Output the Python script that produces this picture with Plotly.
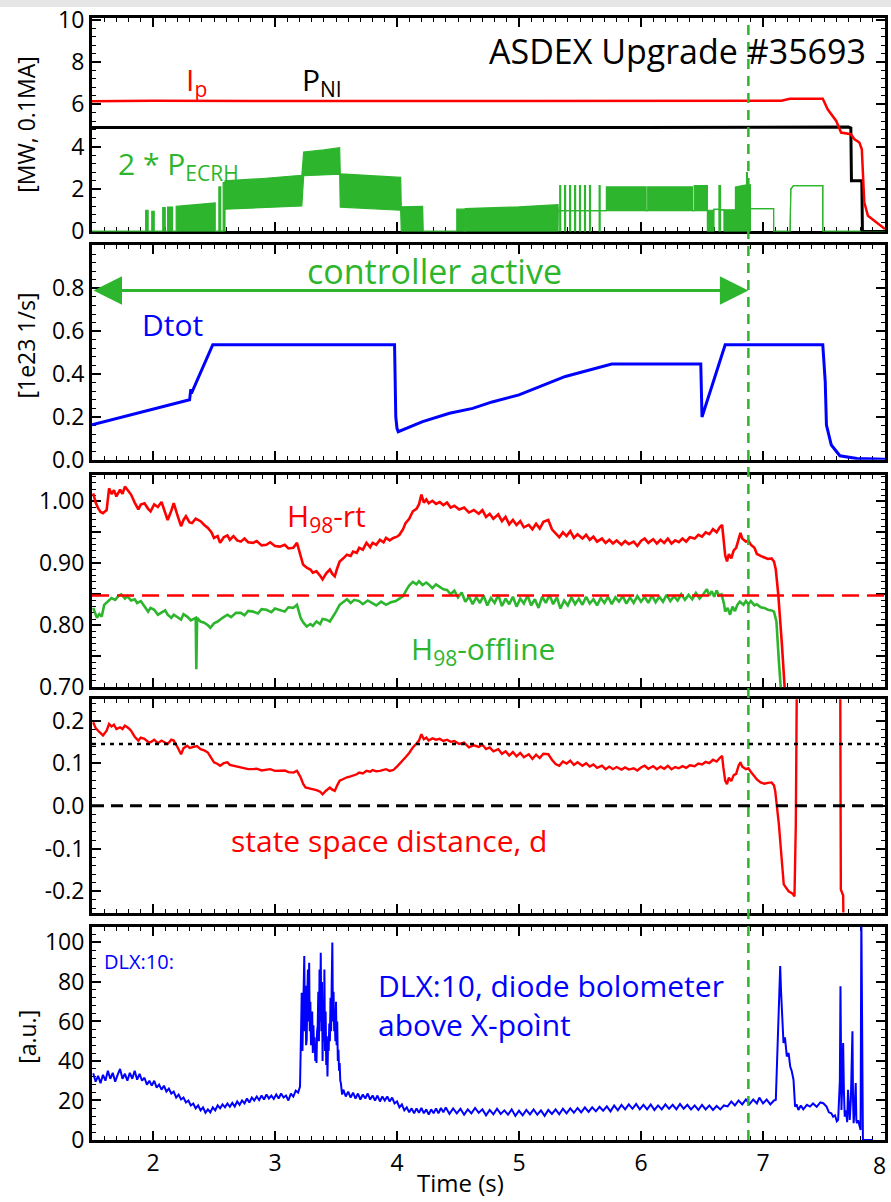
import plotly.graph_objects as go

# ---------------- data (time in s) ----------------
ip_pts = [(1.50, 6.15), (2.0, 6.17), (3.0, 6.16), (4.0, 6.17), (5.0, 6.17), (6.0, 6.18), (7.0, 6.17),
          (7.15, 6.17), (7.22, 6.26), (7.49, 6.27), (7.53, 5.77), (7.60, 5.22), (7.64, 4.67), (7.72, 4.59),
          (7.75, 4.35), (7.79, 4.20), (7.81, 3.88), (7.82, 2.63), (7.83, 1.37), (7.86, 0.74), (7.93, 0.42),
          (8.0, 0.11)]

pni_pts = [(1.50, 4.91), (3.0, 4.90), (4.5, 4.91), (6.0, 4.91), (7.70, 4.93), (7.72, 4.88), (7.725, 2.39),
           (7.81, 2.39), (7.815, 0.0), (8.0, 0.0)]

# 2*P_ECRH: modulated power, given as lower / upper envelope (t, low, high)
ecrh_pts = [
    (1.50, 0, 0), (1.94, 0, 0), (1.94, 0, 1.0), (1.96, 0, 1.0), (1.96, 0, 0), (1.99, 0, 0), (1.99, 0, 0.95),
    (2.01, 0, 0.95), (2.01, 0, 0), (2.08, 0, 0), (2.08, 0, 1.12), (2.10, 0, 1.12), (2.10, 0, 0), (2.12, 0, 0),
    (2.12, 0, 1.15), (2.16, 0, 1.15), (2.16, 0, 0), (2.19, 0, 0), (2.19, 0, 1.18), (2.35, 0, 1.25),
    (2.51, 0, 1.35), (2.51, 0, 0), (2.54, 0, 0), (2.54, 0, 2.1), (2.555, 0, 2.1), (2.555, 0, 0),
    (2.575, 0, 0), (2.575, 0, 2.3), (2.59, 0, 2.3), (2.59, 1.05, 2.39), (2.90, 1.12, 2.50),
    (3.22, 1.20, 2.65), (3.235, 2.63, 3.75), (3.40, 2.66, 3.85), (3.53, 2.70, 3.95), (3.535, 1.15, 2.72),
    (3.80, 1.08, 2.64), (4.03, 1.00, 2.55), (4.035, 0, 1.16), (4.21, 0, 1.18), (4.215, 0, 0), (4.49, 0, 0),
    (4.49, 0, 1.05), (4.55, 0, 1.05), (4.55, 0, 0), (4.56, 0, 0), (4.56, 0, 1.08), (5.00, 0, 1.16),
    (5.32, 0, 1.26), (5.322, 0.98, 0.98),
    (5.334, 0.98, 0.98), (5.334, 0, 2.16), (5.342, 0, 2.16), (5.342, 0.98, 0.98),
    (5.374, 0.98, 0.98), (5.374, 0, 2.16), (5.382, 0, 2.16), (5.382, 0.98, 0.98),
    (5.415, 0.98, 0.98), (5.415, 0, 2.16), (5.423, 0, 2.16), (5.423, 0.98, 0.98),
    (5.456, 0.98, 0.98), (5.456, 0, 2.16), (5.464, 0, 2.16), (5.464, 0.98, 0.98),
    (5.496, 0.98, 0.98), (5.496, 0, 2.16), (5.504, 0, 2.16), (5.504, 0.98, 0.98),
    (5.537, 0.98, 0.98), (5.537, 0, 2.16), (5.545, 0, 2.16), (5.545, 0.98, 0.98),
    (5.578, 0.98, 0.98), (5.578, 0, 2.16), (5.586, 0, 2.16), (5.586, 0.98, 0.98),
    (5.657, 0.98, 0.98), (5.657, 0, 2.16), (5.665, 0, 2.16), (5.665, 0.98, 0.98),
    (5.716, 0.98, 0.98), (5.716, 0.98, 2.10), (6.042, 0.98, 2.10), (6.042, 0.98, 0.98),
    (6.055, 0.98, 0.98), (6.055, 0.98, 2.10), (6.422, 0.98, 2.10), (6.422, 0.98, 0.98),
    (6.436, 0.98, 0.98), (6.436, 0.98, 2.16), (6.544, 0.98, 2.16), (6.544, 0, 1.0), (6.598, 0, 1.0),
    (6.598, 1.04, 1.04), (6.639, 1.04, 1.04), (6.639, 0, 2.16), (6.652, 0, 2.16), (6.652, 1.02, 1.02),
    (6.68, 1.02, 1.02), (6.68, 0, 1.02), (6.774, 0, 1.02), (6.774, 0, 2.10), (6.865, 0, 2.2),
    (6.865, 0, 2.78), (6.872, 0, 2.78), (6.872, 0, 2.2), (6.897, 0, 2.2), (6.897, 1.08, 1.08),
    (7.087, 1.08, 1.08), (7.087, 0, 0), (7.222, 0, 0), (7.228, 2.0, 2.0), (7.25, 2.16, 2.16),
    (7.49, 2.16, 2.16), (7.49, 0, 0), (8.0, 0, 0)]

dtot_pts = [(1.50, 0.163), (2.30, 0.28), (2.31, 0.33), (2.315, 0.31), (2.49, 0.537), (3.98, 0.537),
            (3.99, 0.20), (4.0, 0.147), (4.01, 0.131), (4.21, 0.178), (4.43, 0.217), (4.62, 0.24),
            (4.78, 0.27), (5.0, 0.303), (5.38, 0.389), (5.76, 0.447), (6.49, 0.447), (6.50, 0.20),
            (6.69, 0.537), (7.49, 0.537), (7.51, 0.365), (7.52, 0.162), (7.56, 0.069), (7.63, 0.019),
            (7.77, 0.006), (8.0, 0.003)]

h98_rt_pts = [
    (1.51, 1.013), (1.53, 0.998), (1.55, 0.989), (1.57, 0.983), (1.59, 0.981), (1.62, 0.986), (1.64, 1.021),
    (1.66, 1.012), (1.68, 1.018), (1.70, 1.008), (1.73, 1.019), (1.75, 1.012), (1.77, 1.024), (1.80, 1.015),
    (1.82, 1.011), (1.85, 0.998), (1.88, 0.987), (1.90, 0.995), (1.93, 0.997), (1.96, 0.988), (1.98, 0.984),
    (2.01, 0.995), (2.04, 0.991), (2.07, 0.999), (2.10, 0.982), (2.12, 0.970), (2.15, 0.985), (2.17, 0.997),
    (2.20, 0.978), (2.23, 0.960), (2.25, 0.970), (2.27, 0.976), (2.30, 0.966), (2.32, 0.965), (2.35, 0.972),
    (2.39, 0.968), (2.42, 0.962), (2.45, 0.957), (2.48, 0.950), (2.50, 0.941), (2.53, 0.944), (2.55, 0.933),
    (2.58, 0.942), (2.61, 0.945), (2.63, 0.938), (2.66, 0.944), (2.69, 0.937), (2.72, 0.935), (2.75, 0.940),
    (2.78, 0.934), (2.82, 0.933), (2.85, 0.936), (2.89, 0.929), (2.93, 0.930), (2.96, 0.934), (3.00, 0.928),
    (3.04, 0.927), (3.08, 0.930), (3.11, 0.924), (3.15, 0.925), (3.18, 0.933), (3.20, 0.919), (3.23, 0.898),
    (3.26, 0.893), (3.29, 0.890), (3.31, 0.885), (3.34, 0.887), (3.37, 0.880), (3.39, 0.874), (3.42, 0.884),
    (3.45, 0.890), (3.47, 0.883), (3.49, 0.879), (3.51, 0.892), (3.53, 0.903), (3.56, 0.908), (3.59, 0.914),
    (3.62, 0.912), (3.64, 0.919), (3.67, 0.917), (3.69, 0.925), (3.72, 0.922), (3.75, 0.933), (3.78, 0.926),
    (3.80, 0.933), (3.83, 0.930), (3.86, 0.938), (3.89, 0.934), (3.91, 0.941), (3.94, 0.937), (3.97, 0.941),
    (4.00, 0.943), (4.02, 0.946), (4.05, 0.955), (4.07, 0.965), (4.10, 0.972), (4.13, 0.984), (4.16, 0.988),
    (4.18, 0.995), (4.20, 1.011), (4.22, 0.998), (4.24, 1.003), (4.26, 0.997), (4.29, 1.001), (4.32, 0.996),
    (4.35, 0.999), (4.38, 0.994), (4.41, 0.998), (4.44, 0.990), (4.47, 0.993), (4.51, 0.987), (4.55, 0.990),
    (4.59, 0.982), (4.63, 0.986), (4.67, 0.980), (4.70, 0.986), (4.73, 0.975), (4.76, 0.980), (4.79, 0.972),
    (4.83, 0.979), (4.86, 0.968), (4.89, 0.975), (4.92, 0.963), (4.95, 0.970), (4.98, 0.962), (5.01, 0.968),
    (5.04, 0.958), (5.08, 0.962), (5.11, 0.955), (5.14, 0.964), (5.17, 0.956), (5.20, 0.967), (5.24, 0.970),
    (5.27, 0.955), (5.30, 0.948), (5.33, 0.942), (5.36, 0.950), (5.39, 0.944), (5.42, 0.952), (5.45, 0.941),
    (5.48, 0.947), (5.52, 0.940), (5.55, 0.946), (5.58, 0.938), (5.61, 0.943), (5.64, 0.935), (5.68, 0.940),
    (5.71, 0.933), (5.74, 0.938), (5.77, 0.932), (5.80, 0.937), (5.84, 0.930), (5.87, 0.936), (5.90, 0.931),
    (5.94, 0.935), (5.97, 0.928), (6.00, 0.936), (6.03, 0.940), (6.06, 0.933), (6.10, 0.939), (6.13, 0.932),
    (6.16, 0.938), (6.19, 0.933), (6.22, 0.940), (6.25, 0.932), (6.28, 0.937), (6.31, 0.934), (6.34, 0.940),
    (6.37, 0.935), (6.40, 0.942), (6.44, 0.940), (6.47, 0.946), (6.50, 0.943), (6.53, 0.950), (6.56, 0.947),
    (6.59, 0.955), (6.62, 0.950), (6.645, 0.958), (6.665, 0.962), (6.675, 0.940), (6.69, 0.913), (6.705, 0.903),
    (6.72, 0.915), (6.74, 0.908), (6.76, 0.921), (6.78, 0.925), (6.80, 0.940), (6.815, 0.949), (6.83, 0.940),
    (6.86, 0.935), (6.88, 0.937), (6.90, 0.930), (6.93, 0.925), (6.95, 0.915), (6.98, 0.912), (7.01, 0.909),
    (7.04, 0.907), (7.07, 0.908), (7.09, 0.903), (7.105, 0.890), (7.125, 0.850), (7.155, 0.769),
    (7.175, 0.699), (7.19, 0.66)]

h98_off_pts = [
    (1.51, 0.828), (1.53, 0.815), (1.54, 0.812), (1.56, 0.818), (1.58, 0.814), (1.60, 0.833), (1.63, 0.838),
    (1.66, 0.844), (1.69, 0.841), (1.72, 0.848), (1.74, 0.850), (1.77, 0.843), (1.79, 0.847), (1.82, 0.840),
    (1.85, 0.842), (1.87, 0.836), (1.90, 0.839), (1.93, 0.830), (1.96, 0.822), (1.98, 0.828), (2.01, 0.825),
    (2.04, 0.817), (2.07, 0.820), (2.10, 0.824), (2.12, 0.817), (2.15, 0.812), (2.17, 0.817), (2.20, 0.813),
    (2.23, 0.809), (2.25, 0.818), (2.28, 0.814), (2.31, 0.808), (2.35, 0.812), (2.355, 0.729), (2.362, 0.812),
    (2.39, 0.806), (2.42, 0.804), (2.45, 0.800), (2.47, 0.796), (2.50, 0.803), (2.53, 0.806), (2.57, 0.812),
    (2.61, 0.817), (2.64, 0.813), (2.68, 0.820), (2.72, 0.820), (2.75, 0.816), (2.78, 0.823), (2.82, 0.822),
    (2.86, 0.819), (2.89, 0.826), (2.93, 0.825), (2.97, 0.821), (3.00, 0.827), (3.04, 0.825), (3.08, 0.822),
    (3.11, 0.829), (3.15, 0.828), (3.18, 0.833), (3.21, 0.812), (3.23, 0.805), (3.26, 0.798), (3.29, 0.802),
    (3.31, 0.799), (3.34, 0.806), (3.37, 0.802), (3.39, 0.810), (3.42, 0.809), (3.45, 0.806), (3.47, 0.812),
    (3.50, 0.822), (3.53, 0.833), (3.56, 0.838), (3.59, 0.842), (3.62, 0.836), (3.65, 0.841), (3.69, 0.839),
    (3.72, 0.834), (3.76, 0.840), (3.80, 0.836), (3.83, 0.832), (3.87, 0.838), (3.91, 0.833), (3.95, 0.837),
    (3.99, 0.839), (4.02, 0.843), (4.05, 0.847), (4.08, 0.858), (4.10, 0.864), (4.13, 0.870), (4.16, 0.866),
    (4.18, 0.871), (4.21, 0.865), (4.24, 0.869), (4.26, 0.866), (4.29, 0.860), (4.32, 0.866), (4.35, 0.862),
    (4.38, 0.858), (4.41, 0.857), (4.44, 0.850), (4.47, 0.856), (4.50, 0.845), (4.53, 0.853), (4.56, 0.838),
    (4.59, 0.846), (4.62, 0.834), (4.65, 0.845), (4.68, 0.836), (4.71, 0.848), (4.74, 0.832), (4.77, 0.844),
    (4.80, 0.836), (4.83, 0.849), (4.86, 0.831), (4.89, 0.843), (4.92, 0.834), (4.95, 0.846), (4.98, 0.830),
    (5.01, 0.843), (5.04, 0.835), (5.07, 0.848), (5.10, 0.832), (5.13, 0.842), (5.16, 0.828), (5.19, 0.846),
    (5.22, 0.836), (5.25, 0.849), (5.28, 0.834), (5.31, 0.845), (5.34, 0.827), (5.37, 0.840), (5.40, 0.832),
    (5.43, 0.845), (5.46, 0.834), (5.49, 0.843), (5.52, 0.833), (5.55, 0.846), (5.58, 0.835), (5.61, 0.842),
    (5.64, 0.832), (5.67, 0.844), (5.70, 0.836), (5.73, 0.846), (5.76, 0.834), (5.79, 0.845), (5.82, 0.838),
    (5.85, 0.847), (5.88, 0.835), (5.91, 0.845), (5.94, 0.836), (5.97, 0.847), (6.00, 0.838), (6.03, 0.846),
    (6.06, 0.836), (6.09, 0.848), (6.12, 0.837), (6.15, 0.846), (6.18, 0.838), (6.21, 0.849), (6.24, 0.839),
    (6.27, 0.847), (6.30, 0.840), (6.33, 0.850), (6.36, 0.841), (6.39, 0.849), (6.42, 0.842), (6.45, 0.852),
    (6.48, 0.843), (6.51, 0.850), (6.54, 0.858), (6.56, 0.848), (6.58, 0.855), (6.60, 0.846), (6.62, 0.856),
    (6.64, 0.848), (6.66, 0.850), (6.68, 0.835), (6.69, 0.822), (6.71, 0.828), (6.73, 0.817), (6.75, 0.830),
    (6.77, 0.823), (6.79, 0.833), (6.81, 0.838), (6.84, 0.833), (6.86, 0.839), (6.88, 0.834), (6.90, 0.839),
    (6.93, 0.832), (6.95, 0.834), (6.98, 0.829), (7.01, 0.828), (7.04, 0.825), (7.07, 0.824), (7.09, 0.822),
    (7.11, 0.806), (7.13, 0.742), (7.146, 0.699), (7.16, 0.66)]

dist_pts = [
    (1.51, 0.196), (1.53, 0.182), (1.55, 0.176), (1.57, 0.170), (1.59, 0.165), (1.62, 0.176), (1.64, 0.192),
    (1.66, 0.186), (1.68, 0.190), (1.70, 0.180), (1.73, 0.184), (1.75, 0.180), (1.77, 0.188), (1.80, 0.182),
    (1.82, 0.176), (1.85, 0.162), (1.88, 0.153), (1.90, 0.160), (1.93, 0.157), (1.96, 0.150), (1.98, 0.149),
    (2.01, 0.155), (2.04, 0.147), (2.07, 0.153), (2.10, 0.148), (2.12, 0.145), (2.15, 0.155), (2.17, 0.153),
    (2.20, 0.138), (2.23, 0.121), (2.25, 0.135), (2.28, 0.141), (2.30, 0.136), (2.32, 0.137), (2.36, 0.140),
    (2.39, 0.133), (2.42, 0.130), (2.45, 0.125), (2.48, 0.112), (2.50, 0.102), (2.53, 0.098), (2.55, 0.094),
    (2.58, 0.100), (2.61, 0.102), (2.63, 0.096), (2.66, 0.094), (2.69, 0.091), (2.72, 0.090), (2.75, 0.088),
    (2.78, 0.086), (2.82, 0.086), (2.85, 0.087), (2.89, 0.083), (2.93, 0.084), (2.96, 0.086), (3.00, 0.082),
    (3.04, 0.082), (3.08, 0.083), (3.11, 0.079), (3.15, 0.078), (3.18, 0.082), (3.21, 0.067), (3.23, 0.052),
    (3.25, 0.043), (3.28, 0.041), (3.31, 0.039), (3.34, 0.037), (3.37, 0.033), (3.39, 0.027), (3.42, 0.036),
    (3.45, 0.043), (3.47, 0.038), (3.49, 0.035), (3.51, 0.048), (3.53, 0.059), (3.56, 0.063), (3.59, 0.067),
    (3.62, 0.069), (3.64, 0.071), (3.67, 0.074), (3.69, 0.078), (3.72, 0.076), (3.75, 0.082), (3.78, 0.080),
    (3.80, 0.084), (3.83, 0.081), (3.86, 0.082), (3.89, 0.085), (3.91, 0.086), (3.94, 0.082), (3.97, 0.084),
    (4.00, 0.092), (4.02, 0.098), (4.05, 0.106), (4.07, 0.114), (4.10, 0.124), (4.13, 0.137), (4.16, 0.146),
    (4.18, 0.153), (4.20, 0.168), (4.22, 0.156), (4.24, 0.160), (4.26, 0.153), (4.29, 0.158), (4.32, 0.155),
    (4.35, 0.157), (4.38, 0.152), (4.41, 0.155), (4.44, 0.150), (4.47, 0.152), (4.51, 0.145), (4.55, 0.148),
    (4.59, 0.137), (4.63, 0.142), (4.67, 0.138), (4.70, 0.143), (4.73, 0.133), (4.76, 0.137), (4.79, 0.128),
    (4.83, 0.133), (4.86, 0.122), (4.89, 0.128), (4.92, 0.118), (4.95, 0.126), (4.98, 0.116), (5.01, 0.124),
    (5.04, 0.114), (5.08, 0.121), (5.11, 0.110), (5.14, 0.120), (5.17, 0.112), (5.20, 0.122), (5.24, 0.121),
    (5.27, 0.108), (5.30, 0.098), (5.33, 0.094), (5.36, 0.104), (5.39, 0.099), (5.42, 0.106), (5.45, 0.096),
    (5.48, 0.102), (5.52, 0.094), (5.55, 0.100), (5.58, 0.092), (5.61, 0.097), (5.64, 0.089), (5.68, 0.094),
    (5.71, 0.086), (5.74, 0.092), (5.77, 0.086), (5.80, 0.091), (5.84, 0.085), (5.87, 0.090), (5.90, 0.085),
    (5.94, 0.088), (5.97, 0.083), (6.00, 0.090), (6.03, 0.094), (6.06, 0.087), (6.10, 0.093), (6.13, 0.086),
    (6.16, 0.092), (6.19, 0.087), (6.22, 0.094), (6.25, 0.086), (6.28, 0.091), (6.31, 0.088), (6.34, 0.093),
    (6.37, 0.089), (6.40, 0.095), (6.44, 0.093), (6.47, 0.099), (6.50, 0.097), (6.53, 0.103), (6.56, 0.100),
    (6.59, 0.108), (6.62, 0.104), (6.645, 0.112), (6.665, 0.117), (6.675, 0.090), (6.69, 0.059), (6.705, 0.051),
    (6.72, 0.066), (6.74, 0.058), (6.76, 0.072), (6.78, 0.075), (6.80, 0.094), (6.815, 0.102), (6.83, 0.092),
    (6.86, 0.086), (6.88, 0.088), (6.90, 0.080), (6.93, 0.070), (6.95, 0.062), (6.98, 0.055), (7.01, 0.052),
    (7.04, 0.054), (7.07, 0.055), (7.09, 0.048), (7.10, 0.035), (7.13, -0.043), (7.15, -0.120), (7.17, -0.184),
    (7.21, -0.200), (7.24, -0.205), (7.258, -0.212), (7.269, -0.043), (7.285, 0.60), (7.630, 0.60),
    (7.638, -0.196), (7.657, -0.210), (7.665, -0.40)]

dlx_pts = [
    (1.51, 33.8), (1.53, 29.5), (1.55, 32.5), (1.57, 28.8), (1.59, 33), (1.61, 30), (1.63, 35), (1.65, 31),
    (1.67, 34), (1.69, 29.5), (1.71, 33), (1.73, 36), (1.75, 31), (1.77, 33.5), (1.79, 30), (1.81, 34),
    (1.83, 31), (1.85, 35), (1.87, 30.5), (1.89, 33.5), (1.91, 30), (1.93, 31.5), (1.95, 28), (1.97, 30),
    (1.99, 27.5), (2.01, 30), (2.03, 26.5), (2.05, 28), (2.07, 25.5), (2.09, 27.5), (2.11, 24.5), (2.13, 26),
    (2.15, 23.5), (2.17, 24.5), (2.19, 21.5), (2.21, 23), (2.23, 20.5), (2.25, 21.5), (2.27, 19), (2.29, 20),
    (2.31, 17.5), (2.33, 18.5), (2.35, 16), (2.37, 17.5), (2.39, 15), (2.41, 16.5), (2.43, 13.8), (2.45, 15.5),
    (2.47, 14), (2.49, 16.5), (2.51, 15), (2.53, 17.5), (2.55, 16), (2.57, 18), (2.59, 16.5), (2.61, 18.5),
    (2.63, 16.8), (2.65, 18.8), (2.67, 17), (2.69, 19.5), (2.71, 17.8), (2.73, 20), (2.75, 18.5), (2.77, 21),
    (2.79, 19), (2.81, 21.5), (2.83, 20), (2.85, 22), (2.87, 20.2), (2.89, 22.5), (2.91, 20.5), (2.93, 23),
    (2.95, 21), (2.97, 22.5), (2.99, 20.8), (3.01, 23), (3.03, 21), (3.05, 23.5), (3.07, 21.5), (3.09, 22.5),
    (3.11, 20), (3.13, 23.5), (3.15, 22), (3.17, 25), (3.19, 24), (3.205, 27), (3.215, 60), (3.219, 74.5),
    (3.225, 45), (3.23, 57.6), (3.235, 70), (3.24, 93.1), (3.245, 55), (3.25, 78), (3.255, 48), (3.26, 50.8),
    (3.265, 75), (3.27, 86.3), (3.275, 60), (3.28, 89.7), (3.285, 55), (3.29, 70), (3.295, 48), (3.30, 52.5),
    (3.305, 65), (3.31, 44), (3.315, 58), (3.32, 45.7), (3.325, 52), (3.33, 40), (3.335, 48), (3.34, 39.0),
    (3.345, 55), (3.35, 57.6), (3.355, 75), (3.36, 50), (3.365, 86.3), (3.37, 60), (3.375, 94.8), (3.38, 55),
    (3.385, 80), (3.39, 40), (3.395, 70), (3.40, 50), (3.405, 86.3), (3.41, 45), (3.415, 65), (3.42, 38),
    (3.425, 52.5), (3.43, 32.1), (3.435, 50), (3.44, 45), (3.445, 59), (3.45, 50), (3.455, 72), (3.46, 55),
    (3.465, 80), (3.47, 99.9), (3.475, 60), (3.48, 75), (3.485, 55), (3.49, 62), (3.495, 50), (3.50, 70),
    (3.505, 48), (3.51, 60), (3.515, 40), (3.52, 45.7), (3.525, 35), (3.53, 39), (3.535, 30), (3.54, 28.8),
    (3.55, 23), (3.56, 25.5), (3.58, 22), (3.60, 24.5), (3.62, 21.5), (3.64, 24), (3.66, 21), (3.68, 23.5),
    (3.70, 20.5), (3.72, 23), (3.74, 21), (3.76, 23.5), (3.78, 20.5), (3.80, 22.5), (3.82, 20), (3.84, 22.5),
    (3.86, 19.5), (3.88, 22), (3.90, 20), (3.92, 22), (3.94, 19.5), (3.96, 21.5), (3.98, 18.5), (4.00, 19.5),
    (4.02, 16.5), (4.04, 18), (4.06, 15), (4.08, 16.5), (4.10, 14), (4.12, 16), (4.14, 13.5), (4.16, 16),
    (4.18, 13.8), (4.20, 16.2), (4.22, 13.5), (4.24, 15.5), (4.26, 12.8), (4.28, 15.5), (4.30, 13.5),
    (4.32, 16), (4.34, 13.5), (4.36, 16.2), (4.38, 14), (4.40, 16.5), (4.43, 13.2), (4.46, 16), (4.49, 13.5),
    (4.52, 15.8), (4.55, 12.8), (4.58, 15.5), (4.61, 13.5), (4.64, 16.2), (4.67, 13.8), (4.70, 15.5),
    (4.73, 12.5), (4.76, 15.2), (4.79, 13), (4.82, 15.8), (4.85, 13.2), (4.88, 15), (4.91, 12.8), (4.94, 15.5),
    (4.97, 12.2), (5.00, 14.8), (5.03, 12.5), (5.06, 15.2), (5.09, 13), (5.12, 15.5), (5.15, 12.8), (5.18, 15),
    (5.21, 12.2), (5.24, 15.2), (5.27, 13.2), (5.30, 15.5), (5.33, 13), (5.36, 15.8), (5.39, 13.5), (5.42, 16),
    (5.45, 13.8), (5.48, 16.2), (5.51, 14), (5.54, 16.5), (5.57, 14.2), (5.60, 16.5), (5.63, 14.5),
    (5.66, 16.8), (5.69, 14.8), (5.72, 17), (5.75, 14.5), (5.78, 17.5), (5.81, 15), (5.84, 17.8), (5.87, 15.5),
    (5.90, 18), (5.93, 15.8), (5.96, 18.2), (5.99, 15.5), (6.02, 17.8), (6.05, 15.5), (6.08, 18), (6.11, 15.2),
    (6.14, 17.5), (6.17, 15.5), (6.20, 18), (6.23, 15.8), (6.26, 17.8), (6.29, 15.5), (6.32, 18.2),
    (6.35, 15.8), (6.38, 17.8), (6.41, 15.5), (6.44, 17.5), (6.47, 15.2), (6.50, 17.8), (6.53, 15.5),
    (6.56, 17.5), (6.59, 15.2), (6.62, 17.2), (6.65, 15.5), (6.68, 17.5), (6.71, 17), (6.74, 19.5),
    (6.77, 17.5), (6.80, 20), (6.83, 18), (6.86, 20.5), (6.89, 18.2), (6.92, 20.5), (6.95, 18.5), (6.97, 21.5),
    (7.00, 18.5), (7.03, 20.5), (7.06, 18), (7.09, 20), (7.105, 20.3), (7.114, 40.6), (7.127, 69.3),
    (7.135, 80), (7.141, 88.0), (7.148, 75), (7.155, 66.0), (7.16, 58), (7.168, 49.1), (7.18, 52),
    (7.195, 42.3), (7.21, 44), (7.223, 37.2), (7.235, 35), (7.250, 30.5), (7.263, 16.9), (7.275, 18),
    (7.290, 15.2), (7.31, 17.5), (7.33, 15.5), (7.36, 17.8), (7.385, 16.9), (7.41, 18.5), (7.44, 16.8),
    (7.47, 19), (7.494, 18.6), (7.51, 17.5), (7.521, 16.9), (7.54, 14), (7.56, 13.5), (7.575, 11.8),
    (7.59, 12.5), (7.605, 9.5), (7.616, 10.2), (7.63, 30), (7.635, 77.8), (7.64, 40), (7.643, 15.2),
    (7.65, 30), (7.657, 49.1), (7.663, 25), (7.670, 11.8), (7.68, 15), (7.69, 9), (7.697, 25.4), (7.705, 12),
    (7.711, 10.2), (7.72, 20), (7.728, 45), (7.733, 55.0), (7.738, 20), (7.743, 8.5), (7.75, 15),
    (7.760, 28.8), (7.765, 10), (7.770, 8.5), (7.78, 10), (7.792, 6.8), (7.80, 5), (7.806, 115), (7.812, 50),
    (7.819, 0), (7.901, 0)]

t_ctrl_start, t_ctrl_end = 1.5, 6.88   # feedback controller active window
arrow_level = 0.79
h98_threshold = 0.848
d_reference = 0.145

x_ticks = [2, 3, 4, 5, 6, 7, 8]

# ---------------- style ----------------
RED, BLACK, BLUE, GREEN = "#ff0000", "#000000", "#0000ff", "#2db52d"
FONT = "Open Sans"
TICK_SIZE = 23


def split(points):
    cols = list(zip(*points))
    return [list(c) for c in cols]


fig = go.Figure()


def line(points, color, width, axis, dash=None):
    t, v = split(points)
    fig.add_trace(go.Scatter(x=t, y=v, mode="lines", xaxis="x" + axis, yaxis="y" + axis,
                             line=dict(color=color, width=width, dash=dash), hoverinfo="skip",
                             showlegend=False))


# panel 1: plasma current, NBI power, ECRH power
et, elo, ehi = split(ecrh_pts)
fig.add_trace(go.Scatter(x=et, y=elo, mode="lines", xaxis="x", yaxis="y",
                         line=dict(color=GREEN, width=1.2), showlegend=False, hoverinfo="skip"))
fig.add_trace(go.Scatter(x=et, y=ehi, mode="lines", xaxis="x", yaxis="y", fill="tonexty",
                         fillcolor=GREEN, line=dict(color=GREEN, width=1.2), showlegend=False,
                         hoverinfo="skip"))
line(pni_pts, BLACK, 3, "")
line(ip_pts, RED, 2.5, "")

# panel 2: fuelling
line(dtot_pts, BLUE, 3, "2")

# panel 3: confinement factor
line(h98_off_pts, GREEN, 2.6, "3")
line(h98_rt_pts, RED, 2.6, "3")

# panel 4: state space distance
line(dist_pts, RED, 2.4, "4")

# panel 5: diode bolometer
line(dlx_pts, BLUE, 2.0, "5")

# ---------------- axes ----------------
domains = [(0.8098, 1.0), (0.6062, 0.7973), (0.4036, 0.5929), (0.2027, 0.3929), (0.0, 0.1902)]
y_specs = [
    dict(range=[0, 10.08], tickvals=[0, 2, 4, 6, 8, 10], ticktext=["0", "2", "4", "6", "8", "10"], minor=0.4),
    dict(range=[0, 1.0], tickvals=[0, 0.2, 0.4, 0.6, 0.8], ticktext=["0.0", "0.2", "0.4", "0.6", "0.8"],
         minor=0.04),
    dict(range=[0.70, 1.043], tickvals=[0.70, 0.75, 0.80, 0.85, 0.90, 0.95, 1.00],
         ticktext=["0.70", "", "0.80", "", "0.90", "", "1.00"], minor=0.01),
    dict(range=[-0.25, 0.25], tickvals=[-0.2, -0.1, 0.0, 0.1, 0.2],
         ticktext=["-0.2", "-0.1", "0.0", "0.1", "0.2"], minor=0.02),
    dict(range=[0, 108], tickvals=[0, 20, 40, 60, 80, 100], ticktext=["0", "20", "40", "60", "80", "100"],
         minor=4),
]

common = dict(showline=True, linewidth=3, linecolor=BLACK, mirror="allticks", ticks="inside",
              ticklen=9, tickwidth=2, tickcolor=BLACK, showgrid=False, zeroline=False,
              layer="below traces", tickfont=dict(family=FONT, size=TICK_SIZE, color=BLACK))

# the last time label sits on the page edge, so it is placed separately below
x_labels = [str(v) for v in x_ticks[:-1]] + [""]

layout_axes = {}
for i in range(5):
    sfx = "" if i == 0 else str(i + 1)
    spec = y_specs[i]
    layout_axes["xaxis" + sfx] = dict(
        common, domain=[0, 1], range=[1.5, 8.0], anchor="y" + sfx, tickvals=x_ticks,
        ticktext=x_labels, showticklabels=(i == 4),
        minor=dict(dtick=0.1, tick0=0, ticks="inside", ticklen=4, tickwidth=1.3, tickcolor=BLACK))
    layout_axes["yaxis" + sfx] = dict(
        common, domain=list(domains[i]), range=spec["range"], anchor="x" + sfx,
        tickvals=spec["tickvals"], ticktext=spec["ticktext"], ticklabeloverflow="allow",
        minor=dict(dtick=spec["minor"], tick0=0, ticks="inside", ticklen=4, tickwidth=1.3,
                   tickcolor=BLACK))

# ---------------- annotations ----------------
def label(text, x, y, axis, color, size, xanchor="left", align="left"):
    return dict(text=text, x=x, y=y, xref="x" + axis, yref="y" + axis, showarrow=False,
                xanchor=xanchor, yanchor="middle", align=align,
                font=dict(family=FONT, size=size, color=color))


annotations = [
    label("ASDEX Upgrade #35693", 7.86, 8.5, "", BLACK, 34, xanchor="right"),
    label("I<sub>p</sub>", 2.25, 7.1, "", RED, 30),
    label("P<sub>NI</sub>", 3.205, 7.1, "", BLACK, 30),
    label("2 * P<sub>ECRH</sub>", 1.70, 3.15, "", GREEN, 30),
    label("controller active", 4.31, 0.88, "2", GREEN, 34, xanchor="center"),
    label("Dtot", 1.89, 0.632, "2", BLUE, 30),
    label("H<sub>98</sub>-rt", 3.08, 0.975, "3", RED, 30),
    label("H<sub>98</sub>-offline", 4.10, 0.760, "3", GREEN, 30),
    label("state space distance, d", 2.62, -0.082, "4", RED, 30),
    label("DLX:10:", 1.58, 90.4, "5", BLUE, 20),
    label("DLX:10, diode bolometer<br>above X-poìnt", 3.83, 68.5, "5", BLUE, 30),
    dict(text=str(x_ticks[-1]), x=1.0038, y=-0.022, xref="paper", yref="paper", showarrow=False,
         xanchor="right", yanchor="middle", font=dict(family=FONT, size=TICK_SIZE, color=BLACK)),
    dict(text="Time (s)", x=4.52, y=-0.0542, xref="x5", yref="paper", showarrow=False,
         xanchor="center", yanchor="bottom", font=dict(family=FONT, size=24, color=BLACK)),
    dict(text="[MW, 0.1MA]", x=-0.083, y=5.05, xref="paper", yref="y", showarrow=False,
         textangle=-90, xanchor="center", yanchor="middle", font=dict(family=FONT, size=23, color=BLACK)),
    dict(text="[1e23 1/s]", x=-0.083, y=0.534, xref="paper", yref="y2", showarrow=False,
         textangle=-90, xanchor="center", yanchor="middle", font=dict(family=FONT, size=23, color=BLACK)),
    dict(text="[a.u.]", x=-0.083, y=52.3, xref="paper", yref="y5", showarrow=False,
         textangle=-90, xanchor="center", yanchor="middle", font=dict(family=FONT, size=23, color=BLACK)),
    # double-headed arrow marking the active controller window
    dict(text="", x=t_ctrl_end, y=arrow_level, ax=t_ctrl_start, ay=arrow_level, xref="x2", yref="y2",
         axref="x2", ayref="y2", showarrow=True, arrowside="end+start", arrowhead=2, startarrowhead=2,
         arrowsize=1.9, startarrowsize=1.9, arrowwidth=3, arrowcolor=GREEN, standoff=0, startstandoff=0),
]

shapes = [
    # end of the controller window, across all panels
    dict(type="line", xref="x", yref="paper", x0=t_ctrl_end, x1=t_ctrl_end, y0=0, y1=1,
         line=dict(color=GREEN, width=2.5, dash="10px,7px"), layer="above"),
    dict(type="line", xref="x3", yref="y3", x0=1.5, x1=8.0, y0=h98_threshold, y1=h98_threshold,
         line=dict(color=RED, width=2.5, dash="17px,8px"), layer="above"),
    dict(type="line", xref="x4", yref="y4", x0=1.5, x1=8.0, y0=d_reference, y1=d_reference,
         line=dict(color=BLACK, width=2.5, dash="4px,5px"), layer="above"),
    dict(type="line", xref="x4", yref="y4", x0=1.5, x1=8.0, y0=0.0, y1=0.0,
         line=dict(color=BLACK, width=3, dash="12px,7px"), layer="above"),
    dict(type="rect", xref="paper", yref="paper", x0=-0.2, x1=1.1, y0=1.0098, y1=1.02,
         fillcolor="#e6e6e6", line=dict(width=0), layer="below"),
]

fig.update_layout(
    width=891, height=1202, margin=dict(l=92, r=3, t=15, b=62),
    paper_bgcolor="white", plot_bgcolor="white", showlegend=False,
    font=dict(family=FONT, color=BLACK), annotations=annotations, shapes=shapes, **layout_axes)

fig.write_html("out.html")
